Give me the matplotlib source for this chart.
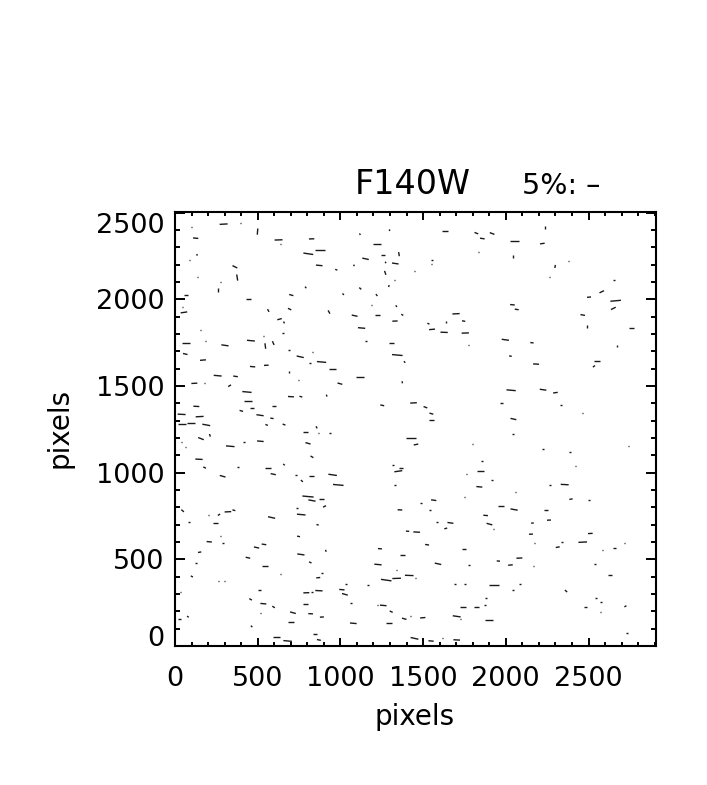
import matplotlib
matplotlib.use('Agg')
import matplotlib.pyplot as plt
import numpy as np
from matplotlib.ticker import MultipleLocator

# polarisation vectors: centre x, centre y, length (all pixels), angle in degrees
vec_x = [294,397,499,102,125,626,826,1118,1297,1221,636,876,806,133,88,1257,1354,1152,1273,1332,362,872,975,1082,1450,1271,376,135,274,1326,
 1293,790,262,1120,66,703,1017,1219,443,46,54,564,693,931,1189,1338,1086,1225,1374,632,659,1330,1128,153,653,536,66,183,302,459,
 546,594,1154,1309,689,832,62,1344,169,757,886,1388,818,469,552,953,691,258,366,1118,745,997,1374,117,177,330,435,701,761,917,
 443,598,1253,1442,129,467,401,149,40,514,586,98,40,189,554,659,856,
 1633,1822,1917,1858,2052,2239,2221,1554,1550,1834,2044,2380,2298,2263,2654,2580,2503,2664,2650,2040,2066,1699,2465,1532,1639,1745,2489,2759,1554,1627,
 1755,1997,2158,1772,2672,2028,2183,2549,2533,2032,2225,2300,1514,1973,2332,1550,1550,2465,2046,
 157,211,40,64,419,516,334,788,870,937,804,1428,1457,828,145,179,381,562,659,1318,1368,1350,288,594,731,826,953,767,987,1330,
 804,828,884,46,737,904,320,356,203,266,1360,763,584,84,243,862,1406,1461,747,276,207,292,493,538,149,1239,912,761,1376,441,
 125,818,1227,542,1340,888,102,638,866,1277,1340,1416,262,298,1033,1168,509,34,794,830,870,1009,1027,457,534,788,1064,596,1259,1223,
 713,820,1307,514,888,78,30,1386,1424,701,1078,1295,463,846,614,681,870,1448,
 2044,1796,2223,2390,2741,1856,2422,1848,1762,1915,2267,2356,1840,2058,2183,1749,1564,1487,2394,2505,1973,2050,1542,2243,1878,2261,1584,2161,1665,1901,
 1637,1925,2152,2511,2465,2340,2175,2717,2314,1524,1745,2656,2586,2082,1955,1590,1778,2028,2167,2539,2630,1453,1693,1755,1929,2088,2044,2364,1882,2545,
 2576,1741,1822,1876,2481,2723,2572,1498,1703,1727,1901,1953,2731,1548,1618,1703]
vec_y = [2433,2438,2390,2419,2352,2342,2348,2375,2398,2317,2317,2285,2262,2256,2229,2256,2260,2233,2212,2206,2187,2195,2170,2195,2162,2152,2125,2127,2102,2110,
 2076,2068,2053,2062,2022,2024,2029,2024,2001,1955,1924,1935,1943,1926,1964,1960,1905,1907,1910,1885,1866,1874,1834,1822,1803,1789,1749,1761,1734,1761,
 1730,1747,1759,1745,1707,1695,1684,1678,1649,1668,1638,1638,1630,1611,1619,1597,1578,1559,1555,1553,1534,1513,1521,1515,1519,1501,1465,1438,1438,1444,
 1415,1386,1388,1402,1382,1373,1356,1323,1336,1331,1313,1286,1281,1275,1275,1277,1261,
 2394,2381,2379,2350,2335,2412,2321,2229,2202,2273,2246,2218,2189,2129,2108,2043,2012,1991,1947,1968,1941,1916,1909,1859,1868,1874,1843,1836,1826,1809,
 1805,1766,1749,1736,1730,1672,1626,1644,1613,1475,1478,1461,1377,1400,1392,1340,1302,1342,1309,
 1196,1215,1177,1146,1179,1181,1152,1237,1227,1231,1169,1200,1162,1091,1077,1029,1033,1027,1046,1046,1029,1008,979,991,989,979,987,952,929,927,
 862,839,847,780,795,805,774,783,755,757,785,758,741,714,708,699,662,657,632,632,601,595,568,586,541,561,549,528,526,509,
 480,482,470,459,438,422,401,413,394,380,390,407,376,374,357,351,323,313,307,313,319,325,298,269,244,242,246,225,234,236,
 192,186,198,190,167,169,156,157,173,138,131,133,113,69,52,29,35,44,
 1221,1164,1135,1119,1154,1066,1039,1012,993,956,929,931,918,887,874,862,841,824,847,841,808,787,785,785,753,726,718,709,710,703,
 678,674,645,649,599,601,593,593,570,584,561,563,553,507,490,474,470,467,461,474,407,392,359,359,353,355,325,317,275,276,
 253,225,225,236,225,229,194,163,171,157,150,108,75,29,48,35]
vec_len = [48,8,36,6,32,48,32,10,10,44,8,60,60,10,8,20,24,40,10,40,32,40,14,10,6,24,36,6,6,8,
 12,12,28,16,20,26,12,14,32,8,40,18,22,22,8,12,36,32,14,28,12,32,44,6,10,6,44,6,44,48,
 32,24,16,28,8,8,28,64,36,44,56,12,10,32,28,44,12,48,28,48,8,30,12,36,8,20,56,36,18,12,
 48,20,24,40,36,24,22,48,48,44,20,48,48,48,16,18,14,
 32,24,30,28,56,18,28,10,6,6,22,8,18,6,8,30,24,64,32,28,24,44,28,14,12,20,16,28,36,44,
 44,44,20,6,14,16,36,36,16,56,40,28,24,16,10,24,32,6,36,
 36,16,6,10,10,40,52,32,6,10,32,64,28,20,44,18,12,32,12,10,24,48,36,32,10,28,52,16,64,10,
 68,44,32,20,10,20,40,18,10,16,28,52,44,8,28,14,20,40,18,8,32,12,32,28,20,24,12,44,32,28,
 10,16,44,36,4,10,14,10,24,64,52,52,10,8,8,12,16,6,36,12,44,32,36,18,36,32,10,18,40,8,
 36,28,20,6,24,12,18,28,10,32,40,36,12,24,40,52,24,48,
 10,6,10,12,6,12,6,40,6,12,16,48,36,8,4,6,32,10,20,12,36,44,10,20,28,24,10,16,36,36,
 18,10,24,28,52,8,4,10,24,24,24,18,8,36,20,40,8,28,8,10,30,4,8,10,64,12,8,18,10,10,
 8,36,32,10,20,14,8,32,48,8,48,4,10,32,6,40]
vec_ang = [3,0,85,0,-5,2,2,-60,85,0,0,0,-8,80,0,0,-80,-12,-60,-8,-25,-5,-20,60,0,-70,-80,0,0,0,
 70,-50,90,-40,0,-15,-40,-50,0,0,8,-60,-25,-60,0,-50,-12,0,-30,15,-60,3,-5,0,0,0,0,0,-8,-5,
 -82,-65,0,0,0,0,-12,-5,5,-12,-5,-50,0,-5,3,0,90,-5,-8,0,0,-15,-80,3,0,30,-5,-3,-15,-70,
 0,0,-12,3,-3,0,-15,3,-3,-8,-8,0,0,-10,-20,-20,-60,
 0,-20,-20,-8,0,90,8,0,0,0,90,0,80,0,0,25,5,5,25,-5,-8,3,-10,-20,90,-10,90,0,5,-2,
 2,-8,-8,0,90,-10,-3,0,35,-5,-8,8,-20,0,0,-15,0,0,-12,
 -20,-70,0,0,0,-5,-5,0,0,0,-15,0,12,-30,-3,-25,0,0,-40,0,0,8,-15,-12,0,0,-8,-40,-5,0,
 -5,-10,0,-40,0,25,3,-15,0,30,-3,-5,-12,0,0,-15,-5,-3,-10,0,-5,0,-12,-8,10,-5,-70,-8,0,-12,
 0,-25,-5,0,0,0,-30,0,5,-8,2,-2,0,0,0,0,0,0,2,0,-3,-5,-15,-30,-5,0,0,-30,-5,0,
 -15,-3,-25,0,3,-40,0,-15,0,0,-5,0,-40,0,0,-5,-12,-12,
 0,0,0,0,0,0,0,0,0,0,0,-3,-5,0,0,0,-8,0,10,0,0,-10,0,0,-5,3,0,5,-8,-15,
 15,0,3,3,3,0,0,0,10,-8,0,0,0,2,-5,-12,0,5,0,0,0,0,0,0,0,0,0,-40,0,0,
 0,0,0,0,0,30,0,5,-8,0,0,0,0,-5,0,-3]
x_ticks = [0, 500, 1000, 1500, 2000, 2500]
y_ticks = [0, 500, 1000, 1500, 2000, 2500]

fig = plt.figure(figsize=(7.07, 7.85), dpi=100)
ax = fig.add_axes([175/707, (785-646)/785, 481/707, 434/785])

x = np.array(vec_x, dtype=float)
y = np.array(vec_y, dtype=float)
ln = np.array(vec_len, dtype=float)
ang = np.radians(vec_ang)
dx = 0.5 * ln * np.cos(ang)
dy = 0.5 * ln * np.sin(ang)
for i in range(len(x)):
    ax.plot([x[i]-dx[i], x[i]+dx[i]], [y[i]-dy[i], y[i]+dy[i]], color='#1a1a1a', lw=1.0,
            solid_capstyle='butt')

ax.set_xlim(0, 2908)
ax.set_ylim(0, 2503)
ax.set_xticks(x_ticks)
ax.set_yticks(y_ticks)
ax.xaxis.set_minor_locator(MultipleLocator(100))
ax.yaxis.set_minor_locator(MultipleLocator(100))
ax.tick_params(axis='x', which='major', direction='in', top=True, length=6, width=1.4,
               labelsize=19.5, pad=14.5)
ax.tick_params(axis='y', which='major', direction='in', right=True, length=7.2, width=1.4,
               labelsize=19.5, pad=7.5)
ax.tick_params(axis='x', which='minor', direction='in', top=True, length=3, width=1.4)
ax.tick_params(axis='y', which='minor', direction='in', right=True, length=3.6, width=1.4)
for s in ax.spines.values():
    s.set_linewidth(1.5)

ylabs = ax.get_yticklabels()
ylabs[0].set_va('baseline')
ylabs[-1].set_va('top')

fig.text(415/707, 1-717/785, 'pixels', ha='center', va='center', fontsize=20)
fig.text(60/707, 1-428/785, 'pixels', ha='center', va='center', fontsize=20, rotation=90)
fig.text(413/707, 1-185/785, 'F140W', ha='center', va='center', fontsize=24)
fig.text(561/707, 1-186/785, '5%: \u2013', ha='center', va='center', fontsize=20.5)

fig.savefig('out.png', dpi=100)
